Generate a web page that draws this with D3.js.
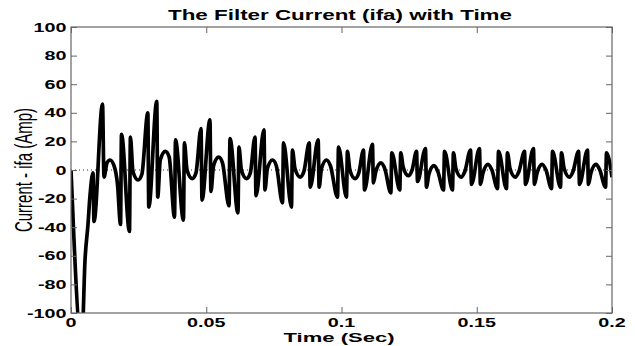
<!DOCTYPE html>
<html>
<head>
<meta charset="utf-8">
<script src="https://cdn.jsdelivr.net/npm/d3@7"></script>
<style>
  body { margin: 0; background: #fff; }
  text { font-family: "Liberation Sans", Arial, sans-serif; fill: #000; }
</style>
</head>
<body>
<div id="chart"></div>
<script>
// axis ticks
const xTicks = [0, 0.05, 0.1, 0.15, 0.2];
const yTicks = [-100, -80, -60, -40, -20, 0, 20, 40, 60, 80, 100];

// filter current ifa: time in ms, current in A
const timeMs = [
  0, 3.99, 5.18, 6.28, 7.02, 8.13, 8.50, 11.65, 12.20, 13.31, 14.42, 15.90, 17.19,
  18.31, 18.67, 21.61, 21.97, 22.9, 24.8, 26.2,
  28.40, 28.76, 31.70, 32.06, 33.0, 34.9, 36.3,
  38.27, 38.63, 41.57, 41.93, 42.9, 44.8, 46.2,
  48.07, 48.43, 51.37, 51.73, 52.7, 54.6, 56.0,
  58.42, 58.78, 61.72, 62.08, 63.0, 64.9, 66.3,
  68.03, 68.39, 71.33, 71.69, 72.6, 74.5, 75.9,
  78.20, 78.56, 81.50, 81.86, 82.8, 84.7, 86.1,
  88.07, 88.43, 91.37, 91.73, 92.6, 94.5, 95.9,
  98.53, 98.89, 101.83, 102.19, 103.1, 105.0, 106.4,
  108.14, 108.50, 111.44, 111.80, 112.7, 114.6, 116.0,
  118.24, 118.60, 121.54, 121.90, 122.8, 124.7, 126.1,
  127.74, 128.10, 131.04, 131.40, 132.3, 134.2, 135.6,
  137.72, 138.08, 141.02, 141.38, 142.3, 144.2, 145.6,
  147.70, 148.06, 151.00, 151.36, 152.3, 154.2, 155.6,
  157.68, 158.04, 160.98, 161.34, 162.3, 164.2, 165.6,
  167.66, 168.02, 170.96, 171.32, 172.3, 174.2, 175.6,
  177.65, 178.01, 180.95, 181.31, 182.3, 184.2, 185.6,
  187.63, 187.99, 190.93, 191.29, 192.2, 194.1, 195.5,
  197.61, 197.97, 200
];
const ifaAmp = [
  0, -121, -63, -38, -18, -2, -36, 46, -5, 5, 7, 3, -10,
  -38, 25, -43, 23, -1, -7, -3,
  40, -26, 48, -19, 7, 13, 9,
  -33, 21, -35, 19, 0, -6, -2,
  29, -21, 35, -15, 3, 9, 5,
  -25, 22, -30, 16, 0, -6, -2,
  23, -18, 28, -14, 1, 7, 3,
  -23, 19, -26, 14, 1, -5, -1,
  19, -12, 21, -12, 1, 7, 3,
  -19, 16, -19, 13, 0, -6, -2,
  14, -14, 18, -9, -1, 5, 1,
  -16, 12, -14, 12, 2, -4, 0,
  13, -8, 15, -12, -3, 3, -1,
  -14, 13, -14, 12, 1, -5, -1,
  14, -10, 15, -10, -2, 4, 0,
  -13, 13, -13, 12, 1, -5, -1,
  13, -10, 15, -10, -2, 4, 0,
  -13, 13, -12, 12, 1, -5, -1,
  13, -10, 14, -10, -2, 4, 0,
  -12, 12, -5
];

const W = 635, H = 346;
const plot = { left: 71, right: 612, top: 27, bottom: 313 };
const stretch = 1.58;   // the source text is drawn wide

const svg = d3.select('#chart').append('svg')
  .attr('width', W)
  .attr('height', H);

svg.append('rect').attr('width', W).attr('height', H).attr('fill', '#fff');

const x = d3.scaleLinear().domain([0, 0.2]).range([plot.left, plot.right]);
const y = d3.scaleLinear().domain([-100, 100]).range([plot.bottom, plot.top]);

svg.append('clipPath').attr('id', 'clip')
  .append('rect')
  .attr('x', plot.left).attr('y', plot.top)
  .attr('width', plot.right - plot.left)
  .attr('height', plot.bottom - plot.top);

// dotted zero line
svg.append('line')
  .attr('x1', x(0)).attr('x2', x(0.2))
  .attr('y1', y(0)).attr('y2', y(0))
  .attr('stroke', '#333')
  .attr('stroke-width', 1)
  .attr('stroke-dasharray', '1,3');

// waveform
const points = timeMs.map((t, i) => [t / 1000, ifaAmp[i]]);
const line = d3.line()
  .curve(d3.curveMonotoneX)
  .x(d => x(d[0]))
  .y(d => y(d[1]));

svg.append('path')
  .datum(points)
  .attr('clip-path', 'url(#clip)')
  .attr('d', line)
  .attr('fill', 'none')
  .attr('stroke', '#000')
  .attr('stroke-width', 3.7)
  .attr('stroke-linejoin', 'round');

// inward ticks on all four sides
const tickLen = 6;
const addAxis = (axis, tx, ty) => {
  const g = svg.append('g')
    .attr('transform', `translate(${tx},${ty})`)
    .call(axis.tickSize(-tickLen).tickFormat(''));
  g.select('.domain').remove();
  g.selectAll('line').attr('stroke', '#666');
};
addAxis(d3.axisBottom(x).tickValues(xTicks), 0, plot.bottom);
addAxis(d3.axisTop(x).tickValues(xTicks), 0, plot.top);
addAxis(d3.axisLeft(y).tickValues(yTicks), plot.left, 0);
addAxis(d3.axisRight(y).tickValues(yTicks), plot.right, 0);

// box
svg.append('rect')
  .attr('x', plot.left).attr('y', plot.top)
  .attr('width', plot.right - plot.left)
  .attr('height', plot.bottom - plot.top)
  .attr('fill', 'none')
  .attr('stroke', '#666')
  .attr('stroke-width', 1.2);

// tick labels
svg.append('g').selectAll('g')
  .data(yTicks)
  .enter().append('g')
  .attr('transform', d => `translate(66.5,${y(d)}) scale(${stretch},1)`)
  .append('text')
  .attr('text-anchor', 'end')
  .attr('dy', '0.36em')
  .style('font-size', '12.5px')
  .style('font-weight', 'bold')
  .text(d => d);

svg.append('g').selectAll('g')
  .data(xTicks)
  .enter().append('g')
  .attr('transform', d => `translate(${x(d)},326.5) scale(${stretch},1)`)
  .append('text')
  .attr('text-anchor', 'middle')
  .style('font-size', '12.5px')
  .style('font-weight', 'bold')
  .text(d => d);

// title
svg.append('g')
  .attr('transform', `translate(340,19.5) scale(1.6,1)`)
  .append('text')
  .attr('text-anchor', 'middle')
  .style('font-size', '14px')
  .style('font-weight', 'bold')
  .text('The Filter Current (ifa) with Time');

// x label
svg.append('g')
  .attr('transform', `translate(339,342) scale(1.62,1)`)
  .append('text')
  .attr('text-anchor', 'middle')
  .style('font-size', '13.6px')
  .style('font-weight', 'bold')
  .text('Time (Sec)');

// y label
svg.append('g')
  .attr('transform', `translate(32,170) scale(1.6,1) rotate(-90)`)
  .append('text')
  .attr('text-anchor', 'middle')
  .style('font-size', '15px')
  .text('Current - ifa (Amp)');
</script>
</body>
</html>
